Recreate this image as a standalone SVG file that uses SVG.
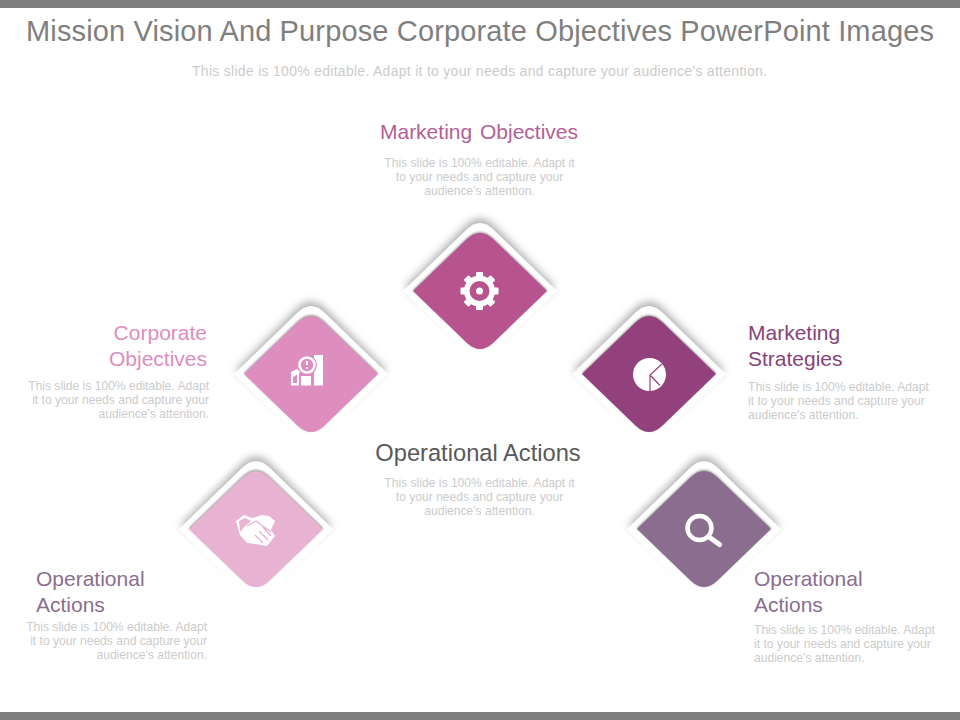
<svg xmlns="http://www.w3.org/2000/svg" xmlns:xlink="http://www.w3.org/1999/xlink" width="960" height="720" viewBox="0 0 960 720">
<style>
text{font-family:"Liberation Sans",Arial,sans-serif}
.d{font-size:12.1px;fill:#cbcbcb}
.l{font-size:21px}
.m{text-anchor:middle}
.e{text-anchor:end}
.w{fill:#fff;stroke:none}
.s{fill:none;stroke:#fff}
</style>
<defs>
<filter id="sh" x="-30%" y="-30%" width="160%" height="160%"><feGaussianBlur stdDeviation="4.500"/></filter>
<filter id="in" x="-10%" y="-10%" width="120%" height="120%"><feGaussianBlur stdDeviation="0.800"/></filter>
<g id="card">
<path d="M-75,-4 L-13,-66 Q0,-78 13,-66 L75,-4 L13,52 Q0,62 -13,52 Z" fill="#6f6f6f" opacity=".6" filter="url(#sh)"/>
<path d="M-77,0 L-13,-62 Q0,-74 13,-62 L77,0 L13,62 Q0,74 -13,62 Z" fill="#fff"/>
<path d="M-67,-1 L-13,-53 Q0,-65 13,-53 L67,-1 L13,51 Q0,63 -13,51 Z" fill="#3a3a3a" opacity=".55" filter="url(#in)"/>
</g>
<path id="face" d="M-67,0 L-13,-52 Q0,-64 13,-52 L67,0 L13,52 Q0,64 -13,52 Z"/>
</defs>
<rect width="960" height="8" fill="#7f7f7f"/>
<rect y="712" width="960" height="8" fill="#7f7f7f"/>
<text x="480" y="41" class="m" font-size="29" fill="#7f7f7f" textLength="908" lengthAdjust="spacing">Mission Vision And Purpose Corporate Objectives PowerPoint Images</text>
<text x="479.500" y="76" class="m" font-size="14" fill="#cbcbcb" textLength="575" lengthAdjust="spacing">This slide is 100% editable. Adapt it to your needs and capture your audience's attention.</text>
<g id="connectors"/>

<g id="node-marketing-objectives">
<use href="#card" x="480" y="291"/>
<use href="#face" x="480" y="291" fill="#b7548f"/>
<g transform="translate(479.500,291)">
<circle r="12.750" class="s" stroke-width="5.500"/>
<circle r="3.500" class="w"/>
<g class="w"><rect x="-3.500" y="-19" width="7" height="6" rx="1"/><rect x="-3.500" y="13" width="7" height="6" rx="1"/><rect x="-19" y="-3.500" width="6" height="7" rx="1"/><rect x="13" y="-3.500" width="6" height="7" rx="1"/><rect x="-3.500" y="-19" width="7" height="6" rx="1" transform="rotate(45)"/><rect x="-3.500" y="13" width="7" height="6" rx="1" transform="rotate(45)"/><rect x="-19" y="-3.500" width="6" height="7" rx="1" transform="rotate(45)"/><rect x="13" y="-3.500" width="6" height="7" rx="1" transform="rotate(45)"/></g>
</g>
<text x="479" y="139" class="l m" fill="#b45f96" word-spacing="2">Marketing Objectives</text>
<text class="d m"><tspan x="479.500" y="167">This slide is 100% editable. Adapt it</tspan><tspan x="479.500" y="181">to your needs and capture your</tspan><tspan x="479.500" y="195">audience's attention.</tspan></text>
</g>

<g id="node-corporate-objectives">
<use href="#card" x="311" y="374"/>
<use href="#face" x="311" y="374" fill="#de8dbf"/>
<g>
<path d="M291,372 L297,369 L299,371 L299,385.500 L291,385.500 Z" class="w"/>
<rect x="293" y="374" width="4" height="9" fill="#de8dbf"/>
<rect x="301" y="376" width="10" height="9.500" class="w"/>
<rect x="314" y="355" width="9" height="30.500" class="w"/>
<path d="M301,370 L293,376" fill="none" stroke="#fff" stroke-width="2.500"/>
<circle cx="307" cy="365" r="10" fill="#de8dbf"/>
<circle cx="307" cy="365" r="7.500" fill="none" stroke="#fff" stroke-width="2.500"/>
<rect x="306" y="361" width="2" height="4" class="w"/>
<circle cx="307" cy="368" r="1" class="w"/>
</g>
<text class="l e" fill="#de8dbf"><tspan x="207" y="340">Corporate</tspan><tspan x="207" y="366">Objectives</tspan></text>
<text class="d e"><tspan x="209" y="390">This slide is 100% editable. Adapt</tspan><tspan x="209" y="404">it to your needs and capture your</tspan><tspan x="209" y="418">audience's attention.</tspan></text>
</g>

<g id="node-marketing-strategies">
<use href="#card" x="649" y="374"/>
<use href="#face" x="649" y="374" fill="#93417c"/>
<circle cx="649.500" cy="374.500" r="16.500" class="w"/>
<path d="M650,391 L650,375 L662,364 M650,375 L660,385.500" fill="none" stroke="#93417c" stroke-width="1.200"/>
<text class="l" fill="#85447a"><tspan x="748" y="340">Marketing</tspan><tspan x="748" y="366">Strategies</tspan></text>
<text class="d"><tspan x="748" y="391">This slide is 100% editable. Adapt</tspan><tspan x="748" y="405">it to your needs and capture your</tspan><tspan x="748" y="419">audience's attention.</tspan></text>
</g>

<g id="node-operational-actions-left">
<use href="#card" x="256" y="529"/>
<use href="#face" x="256" y="529" fill="#e8b2d3"/>
<g>
<path d="M236,521 L244,515 L252,518 L262,515 L269,516 L275,521 L271,530 L275,536 L267,546 L256,544 L247,543 L240,535 Z" class="w"/>
<path d="M239,521 L245,518 L251,521 L245,526 L240,532 Z" fill="#e8b2d3"/>
<path d="M247,526 L256,521 L271,532 M259,531 L268,540 M255,535 L263,543 M263,527 L271,536" fill="none" stroke="#e8b2d3" stroke-width="1.300"/>
</g>
<text class="l" fill="#8b6e8e"><tspan x="36" y="586">Operational</tspan><tspan x="36" y="612">Actions</tspan></text>
<text class="d e"><tspan x="207" y="631">This slide is 100% editable. Adapt</tspan><tspan x="207" y="645">it to your needs and capture your</tspan><tspan x="207" y="659">audience's attention.</tspan></text>
</g>

<g id="node-operational-actions-right">
<use href="#card" x="704" y="529"/>
<use href="#face" x="704" y="529" fill="#8a6d8f"/>
<circle cx="699.500" cy="528" r="12" class="s" stroke-width="4.500"/>
<path d="M709,537 L719.500,544.500" class="s" stroke-width="5" stroke-linecap="round"/>
<text class="l" fill="#8a6d8f"><tspan x="754" y="586">Operational</tspan><tspan x="754" y="612">Actions</tspan></text>
<text class="d"><tspan x="754" y="634">This slide is 100% editable. Adapt</tspan><tspan x="754" y="648">it to your needs and capture your</tspan><tspan x="754" y="662">audience's attention.</tspan></text>
</g>

<g id="node-operational-actions-center">
<text x="478" y="461" class="m" font-size="23.700" fill="#595959">Operational Actions</text>
<text class="d m"><tspan x="479.500" y="487">This slide is 100% editable. Adapt it</tspan><tspan x="479.500" y="501">to your needs and capture your</tspan><tspan x="479.500" y="515">audience's attention.</tspan></text>
</g>
</svg>
